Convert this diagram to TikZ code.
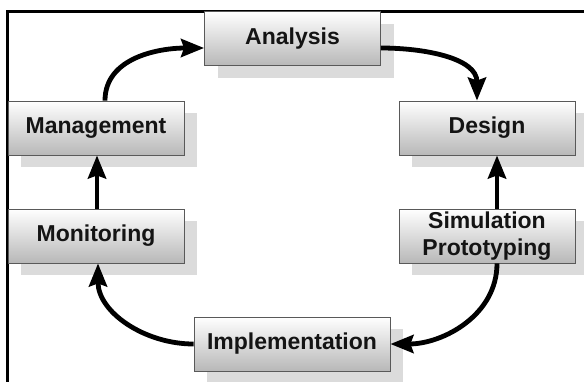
\documentclass[tikz,border=0pt]{standalone}
\usepackage{fontspec}
\setmainfont{Liberation Sans}
\usetikzlibrary{arrows.meta,shadows,positioning}
\tikzset{
  box/.style={rectangle, draw=black!65, line width=0.8pt, top color=white, bottom color=black!28,
    minimum width=176pt, minimum height=54pt, inner sep=0pt, align=center,
    font=\fontsize{23}{27}\selectfont\bfseries, text=black!92,
    drop shadow={shadow xshift=13pt, shadow yshift=-12pt, fill=black!14, opacity=1}},
  conn/.style={line width=4.8pt, -{Stealth[length=23pt,width=18pt,inset=3pt]}, black}
}
\begin{document}
\begin{tikzpicture}[x=1pt,y=-1pt]
\useasboundingbox (0,0) rectangle (584,381);
\fill[white] (0,0) rectangle (584,381);
\draw[line width=3pt, black] (7,390) -- (7,11) -- (590,11);
\node[box] (an) at (292.5,38.5) {Analysis};
\node[box] (mg) at (96,128) {Management};
\node[box] (de) at (487,128) {Design};
\node[box] (mo) at (96,236) {Monitoring};
\node[box] (si) at (487,236) {Simulation\\Prototyping};
\node[box, minimum width=196pt] (im) at (292,344) {Implementation};
\draw[conn] ([xshift=9pt]mg.north) to[out=90,in=180] ([yshift=-9.5pt]an.west);
\draw[conn] ([yshift=-9.5pt]an.east) to[out=0,in=90] ([xshift=-10pt]de.north);
\draw[conn] ([xshift=10pt]si.north) -- ([xshift=10pt]de.south);
\draw[conn] ([xshift=10pt]si.south) to[out=-90,in=0] (im.east);
\draw[conn] (im.west) to[out=180,in=-90] ([xshift=2pt]mo.south);
\draw[conn] ([xshift=1pt]mo.north) -- ([xshift=1pt]mg.south);
\end{tikzpicture}
\end{document}
